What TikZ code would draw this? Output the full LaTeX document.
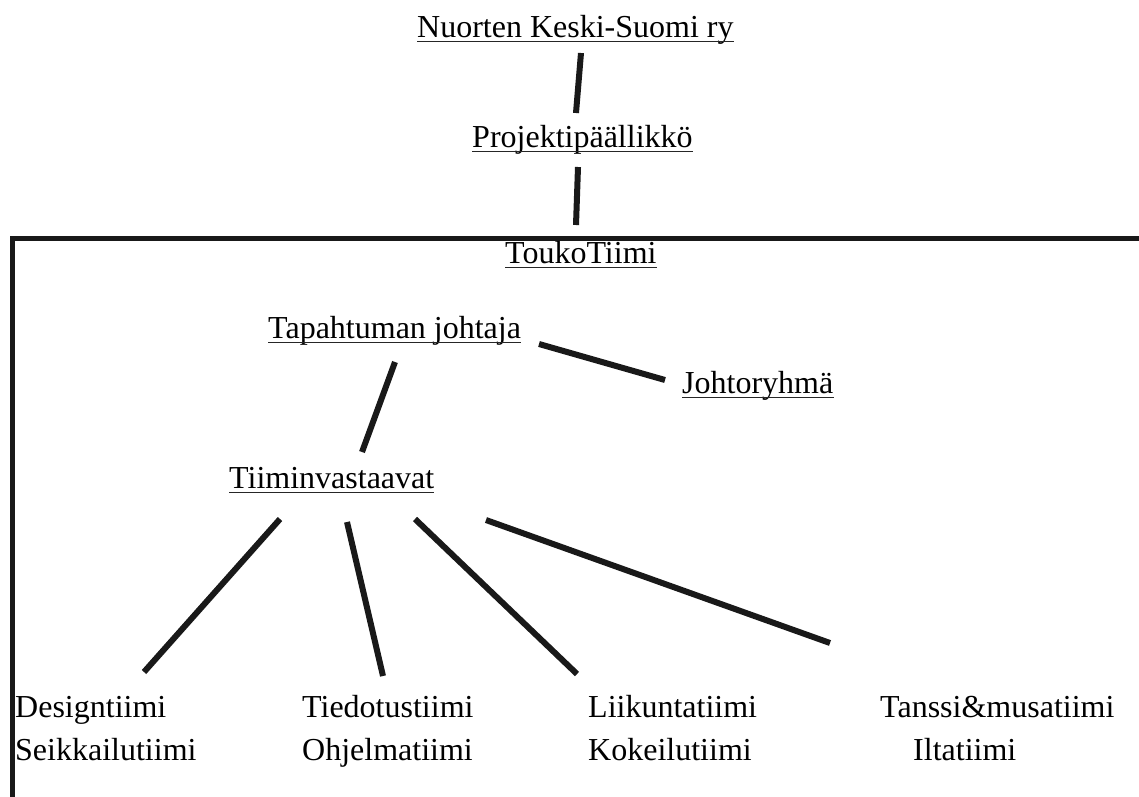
\documentclass[tikz,border=0pt]{standalone}
\usepackage{fontspec}
\setmainfont{Liberation Serif}
\usepackage{tikz}
\tikzstyle{org}=[inner sep=0pt, anchor=base west, font=\fontsize{32}{38}\selectfont]
\tikzstyle{underl}=[line width=1.3pt, color=black!85]
\tikzstyle{link}=[line width=6pt, color=black!90]
\tikzstyle{frame}=[line width=5pt, color=black!90]

\begin{document}
\begin{tikzpicture}[x=1pt, y=-1pt]
        \useasboundingbox (0,0) rectangle (1139,796);
        \node[org] (nks) at (417, 37) {Nuorten Keski-Suomi ry};
        \node[org] (pp) at (472, 147) {Projektipäällikkö};
        \node[org] (tt) at (505, 263) {ToukoTiimi};
        \node[org] (tj) at (268, 338) {Tapahtuman johtaja};
        \node[org] (jr) at (682, 393) {Johtoryhmä};
        \node[org] (tv) at (229, 488) {Tiiminvastaavat};
        \node[org] (design) at (15, 717) {Designtiimi};
        \node[org] (seikka) at (15, 760) {Seikkailutiimi};
        \node[org] (tiedo) at (302, 717) {Tiedotustiimi};
        \node[org] (ohjel) at (302, 760) {Ohjelmatiimi};
        \node[org] (liiku) at (588, 717) {Liikuntatiimi};
        \node[org] (kokei) at (588, 760) {Kokeilutiimi};
        \node[org] (tanssi) at (880, 717) {Tanssi\&musatiimi};
        \node[org] (ilta) at (913, 760) {Iltatiimi};
        % underlined titles
        \foreach \n in {nks, pp, tt, tj, jr, tv}
            \draw[underl] ([yshift=-4.5pt]\n.base west) -- ([yshift=-4.5pt]\n.base east);
        % connector ends
        \coordinate (nks-s) at (581, 53);
        \coordinate (pp-n) at (576, 113);
        \coordinate (pp-s) at (578, 167);
        \coordinate (tt-n) at (576, 225);
        \coordinate (tj-e) at (539, 344);
        \coordinate (jr-w) at (665, 380);
        \coordinate (tj-s) at (395, 362);
        \coordinate (tv-n) at (362, 452);
        \coordinate (tv-s1) at (280, 519);
        \coordinate (tv-s2) at (347, 522);
        \coordinate (tv-s3) at (415, 519);
        \coordinate (tv-s4) at (486, 520);
        \coordinate (design-n) at (144, 672);
        \coordinate (tiedo-n) at (383, 676);
        \coordinate (liiku-n) at (577, 674);
        \coordinate (tanssi-n) at (830, 643);
        \draw[link] (nks-s) -- (pp-n);
        \draw[link] (pp-s) -- (tt-n);
        \draw[link] (tj-e) -- (jr-w);
        \draw[link] (tj-s) -- (tv-n);
        \draw[link] (tv-s1) -- (design-n);
        \draw[link] (tv-s2) -- (tiedo-n);
        \draw[link] (tv-s3) -- (liiku-n);
        \draw[link] (tv-s4) -- (tanssi-n);
        % team frame
        \draw[frame] (1145, 238) -- (12, 238) -- (12, 800);
    \end{tikzpicture}
\end{document}
